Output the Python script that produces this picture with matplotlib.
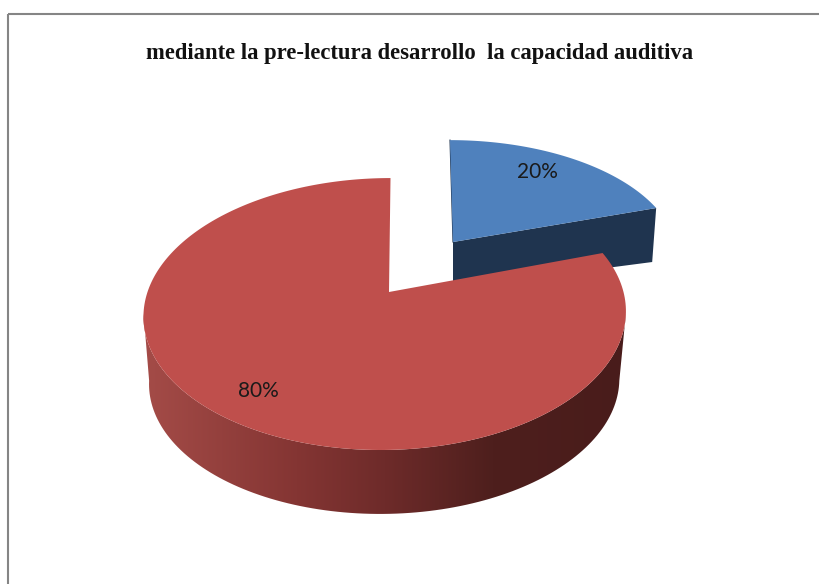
import matplotlib
matplotlib.use('Agg')
import matplotlib.pyplot as plt
import numpy as np
from matplotlib.colors import LinearSegmentedColormap
from matplotlib.patches import Polygon

title = 'mediante la pre-lectura desarrollo  la capacidad auditiva'
values = [20, 80]
top_colors = ['#4f81bd', '#bf4f4c']
side_blue = '#1f344f'

# red side shading, left to right
side_stops = [(0.0, '#a54c48'), (0.32, '#843533'), (0.5, '#6e2b2a'), (0.72, '#4e1f1d'), (1.0, '#491c1b')]


def rim(theta, cx, cy, r, a, k, shear):
    # circle in perspective, theta clockwise from the far side
    u = np.sin(theta)
    v = np.cos(theta)
    d = 1 + k * v
    return cx + r * u / d + shear * v, cy - a * v / d


fig = plt.figure(figsize=(8.19, 5.84), dpi=100)
ax = fig.add_axes([0, 0, 1, 1])

# slice angles come from the values
shares = np.array(values) / sum(values)
edges = np.concatenate([[0], np.cumsum(shares)]) * 2 * np.pi

# blue slice, pulled out to the back right
t = np.linspace(edges[0], edges[1], 60)
bx, by = rim(t, 453, 242, 222.5, 114, 0.119, -3)
ex, ey = bx[-1], by[-1]
ax.add_patch(Polygon([(453, 242), (ex, ey), (ex - 4, ey + 54), (453, 288)], fc=side_blue, ec='none', zorder=2))
ax.add_patch(Polygon(np.column_stack([np.r_[453, bx], np.r_[242, by]]), fc=top_colors[0], ec='none', zorder=3))
ax.plot([bx[0], 453], [by[0], 242], color=side_blue, lw=0.8, zorder=2.5)

# red slice side, gradient clipped to the wall
t = np.radians(np.linspace(99, 261, 120))
x1, y1 = rim(t, 385.5, 292, 238, 132.4, 0.162, 5)
x2, y2 = rim(t, 385, 360, 232, 129, 0.162, 5)
wall = Polygon(np.column_stack([np.r_[x1, x2[::-1]], np.r_[y1, y2[::-1]]]), fc='none', ec='none', transform=ax.transData)
ax.add_patch(wall)
cmap = LinearSegmentedColormap.from_list('wall', side_stops)
img = ax.imshow(np.linspace(0, 1, 256)[None, :], cmap=cmap, extent=(140, 630, 530, 300), aspect='auto', zorder=4)
img.set_clip_path(wall)

# red slice top
t = np.linspace(edges[1], edges[2], 240)
rx, ry = rim(t, 385.5, 292, 238, 132.4, 0.162, 5)
ax.add_patch(Polygon(np.column_stack([np.r_[389, rx], np.r_[292, ry]]), fc=top_colors[1], ec='none', zorder=5))

# frame, only top and left show
ax.plot([8, 819], [14, 14], color='#858585', lw=1.5, zorder=1, solid_capstyle='butt')
ax.plot([8, 8], [14, 584], color='#858585', lw=1.5, zorder=1, solid_capstyle='butt')

ax.text(419.5, 54, title, family='Liberation Serif', fontweight='bold', fontsize=16.3, ha='center', va='center', color='#111111', zorder=6)
ax.text(537, 172, f'{values[0]}%', family='Lato', fontsize=15, ha='center', va='center', color='#1a1a1a', zorder=6)
ax.text(258, 391, f'{values[1]}%', family='Lato', fontsize=15, ha='center', va='center', color='#1a1a1a', zorder=6)

ax.set_xlim(0, 819)
ax.set_ylim(584, 0)
ax.axis('off')
fig.savefig('out.png', dpi=100, facecolor='white')
